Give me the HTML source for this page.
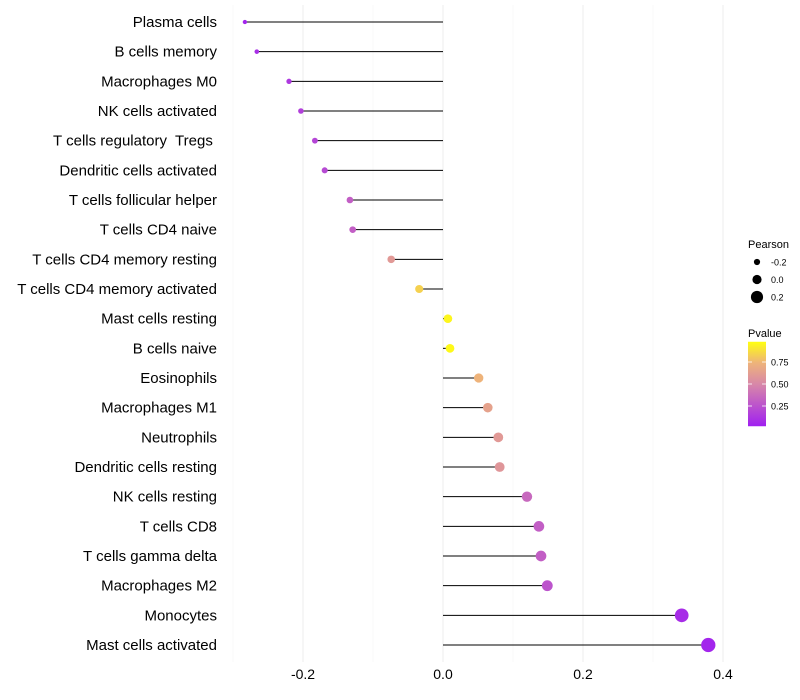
<!DOCTYPE html>
<html><head><meta charset="utf-8">
<style>body{margin:0;background:#fff}svg{display:block;font-family:"Liberation Sans",sans-serif}</style>
</head><body>
<svg id="c" width="800" height="700"></svg>
<script>
const categories=["Plasma cells","B cells memory","Macrophages M0","NK cells activated","T cells regulatory  Tregs ","Dendritic cells activated","T cells follicular helper","T cells CD4 naive","T cells CD4 memory resting","T cells CD4 memory activated","Mast cells resting","B cells naive","Eosinophils","Macrophages M1","Neutrophils","Dendritic cells resting","NK cells resting","T cells CD8","T cells gamma delta","Macrophages M2","Monocytes","Mast cells activated"];
const pearson=[-0.283,-0.266,-0.22,-0.203,-0.183,-0.169,-0.133,-0.129,-0.074,-0.034,0.007,0.01,0.051,0.064,0.079,0.081,0.12,0.137,0.14,0.149,0.341,0.379];
const pvalue=[0.03,0.07,0.12,0.15,0.18,0.2,0.3,0.3,0.6,0.85,0.97,0.98,0.75,0.65,0.6,0.58,0.35,0.3,0.3,0.25,0.06,0.03];
const xTicks=[-0.2,0,0.2,0.4];
const xTickLabels=["-0.2","0.0","0.2","0.4"];
const xMinor=[-0.3,-0.1,0.1,0.3];
const sizeLegend=[-0.2,0,0.2];
const pTicks=[0.25,0.5,0.75];

const svg=document.getElementById('c');const NS='http://www.w3.org/2000/svg';
function el(t,a,p){const e=document.createElementNS(NS,t);for(const k in a)e.setAttribute(k,a[k]);(p||svg).appendChild(e);return e;}
const x=v=>443+v*700;
const y=i=>22+i*(623/21);
const r=v=>4.3+7.5*v;
const stops=[[0,[160,32,240]],[0.5,[216,136,168]],[0.75,[238,179,122]],[1,[255,255,16]]];
function col(p){for(let i=1;i<stops.length;i++){if(p<=stops[i][0]){const a=stops[i-1],b=stops[i];const t=(p-a[0])/(b[0]-a[0]);return 'rgb('+a[1].map((c,j)=>Math.round(c+(b[1][j]-c)*t)).join(',')+')';}}return 'rgb(255,255,16)';}

const grid=el('g',{});


xMinor.forEach(v=>el('line',{x1:x(v),x2:x(v),y1:5,y2:662,stroke:'#f4f4f4','stroke-width':0.6},grid));
xTicks.forEach(v=>el('line',{x1:x(v),x2:x(v),y1:5,y2:662,stroke:'#ededed','stroke-width':1},grid));

const xa=el('g',{});


xTicks.forEach((v,i)=>{const t=el('text',{x:x(v),y:679,'text-anchor':'middle','font-size':14,fill:'#000'},xa);t.textContent=xTickLabels[i];});

const ya=el('g',{});


categories.forEach((c,i)=>{const t=el('text',{x:217,y:y(i)+5,'text-anchor':'end','font-size':15,fill:'#000'},ya);t.setAttribute('style','white-space:pre');t.textContent=c;});

const marks=el('g',{});


categories.forEach((c,i)=>{
 const l=el('line',{x1:x(0),x2:x(pearson[i]),y1:y(i),y2:y(i),stroke:'#000','stroke-width':1},marks);
 
 
 const d=el('circle',{cx:x(pearson[i]),cy:y(i),r:r(pearson[i]),fill:col(pvalue[i])},marks);
 
 
});

const lg=el('g',{});


let t=el('text',{x:748,y:248,'font-size':11},lg);t.textContent='Pearson';
sizeLegend.forEach((v,i)=>{const cy=262+i*17.5;el('circle',{cx:757,cy:cy,r:r(v)+0.3,fill:'#000'},lg);const tt=el('text',{x:771,y:cy+3.5,'font-size':9},lg);tt.textContent=v===0?'0.0':String(v);});

const pg=el('g',{});


t=el('text',{x:748,y:337,'font-size':11},pg);t.textContent='Pvalue';
const defs=el('defs',{});const gr=el('linearGradient',{id:'pg',x1:0,y1:1,x2:0,y2:0},defs);
stops.forEach(s=>el('stop',{offset:s[0],'stop-color':'rgb('+s[1].join(',')+')'},gr));
const py=p=>428-p*88;
el('rect',{x:748,y:py(0.98),width:18,height:py(0.02)-py(0.98),fill:'url(#pg)'},pg);
pTicks.forEach(p=>{el('line',{x1:748,x2:752,y1:py(p),y2:py(p),stroke:'#fff','stroke-width':0.8},pg);el('line',{x1:762,x2:766,y1:py(p),y2:py(p),stroke:'#fff','stroke-width':0.8},pg);const tt=el('text',{x:771,y:py(p)+3.5,'font-size':9},pg);tt.textContent=p.toFixed(2);});
</script>
</body></html>
